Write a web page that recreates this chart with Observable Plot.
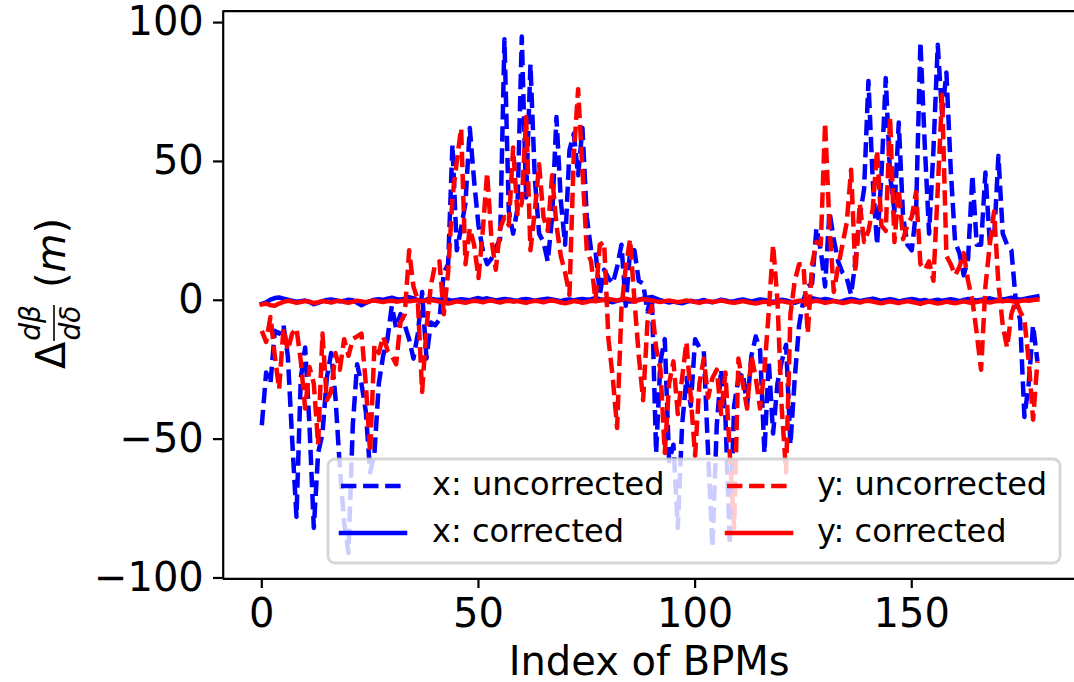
<!DOCTYPE html>
<html><head><meta charset="utf-8">
<script src="https://cdn.jsdelivr.net/npm/d3@7"></script>
<script src="https://cdn.jsdelivr.net/npm/@observablehq/plot@0.6"></script>
<style>body{margin:0;background:#fff;} svg{display:block}</style>
</head><body><div id="chart"></div>
<script>
// x: uncorrected (blue dashed)
const xUncorrected = [
 -45,-26,-30,-11,-12,-9,-20,-50,-78,-28,
 -17,-45,-82,-55,-48,-28,-19,-35,-60,-80,
 -91,-45,-23,-30,-40,-62,-55,-30,-20,-14,
 -2,-10,-5,-9,-14,-21,-12,3,-21,-8,
 -9,-7,10,13,56,18,26,35,62,43,
 27,18,13,15,19,22,94,32,24,33,
 95,37,85,44,24,21,14,30,66,36,
 20,54,60,45,62,30,18,18,2,11,
 8,6,12,20,-2,18,18,7,6,-4,
 2,-55,-22,-14,-58,-52,-82,-45,-28,-38,
 -14,-17,-18,-55,-89,-45,-25,-42,-88,-38,
 -28,-26,-38,-20,-13,-18,-55,-22,-48,-30,
 -22,-16,-52,-28,-9,0,5,6,26,18,
 5,32,22,14,10,8,2,14,30,40,
 79,43,20,45,80,45,32,64,30,20,
 18,32,93,56,24,54,92,67,82,47,
 21,17,9,15,45,20,20,46,21,22,
 52,24,20,18,0,-7,-42,-30,-9,-22
];
// x: corrected (blue solid)
const xCorrected = [
 -1.3,-0.8,0.2,0.8,1.0,0.6,0.2,-0.2,-0.5,-0.3,
 -0.1,-0.6,-1.4,-0.9,-0.3,0.1,0.3,0.0,-0.4,-0.2,
 0.2,0.0,-0.9,-1.8,-1.0,-0.3,0.2,0.4,0.1,0.6,
 0.9,0.5,0.2,0.6,1.1,0.7,0.1,-0.3,0.2,0.6,
 0.3,0.1,0.5,0.2,-0.2,0.1,0.4,0.2,0.0,0.5,
 0.8,0.4,0.7,0.3,-0.1,0.2,0.5,0.3,0.0,-0.2,
 0.3,0.5,0.2,-0.2,0.1,0.4,0.6,0.3,0.0,-0.3,
 0.1,0.3,-0.1,0.3,0.5,0.2,0.4,0.8,0.4,0.1,
 -0.4,-0.7,-0.2,0.2,0.0,-0.5,-0.2,0.2,0.6,0.9,
 1.2,0.6,0.0,-0.4,-0.8,-0.5,-0.8,-1.1,-0.6,-0.2,
 -0.5,-0.3,0.1,-0.4,-0.7,-0.3,0.2,-0.1,-0.5,-0.3,
 0.0,0.3,-0.1,-0.4,-0.1,0.3,0.1,-0.3,-0.6,-0.2,
 0.2,-0.1,-0.5,-0.9,-0.4,0.0,0.4,0.7,0.4,0.1,
 0.5,0.2,-0.2,-0.6,-0.3,0.2,0.5,0.2,-0.3,0.0,
 0.3,0.6,0.2,-0.2,0.1,0.4,0.1,-0.4,-0.1,0.2,
 0.5,0.2,-0.2,0.1,-0.3,-0.1,0.2,-0.2,0.1,0.4,
 0.1,-0.3,0.1,0.5,0.2,-0.1,0.2,0.4,0.7,0.3,
 0.0,0.3,0.6,0.9,0.5,0.2,0.5,0.8,1.1,1.4
];
// y: uncorrected (red dashed)
const yUncorrected = [
 -11,-15,-6,-20,-32,-10,-18,-12,-10,-22,
 -39,-24,-30,-52,-12,-36,-33,-19,-25,-14,
 -20,-14,-13,-12,-30,-55,-16,-19,-13,-18,
 -20,-23,-8,-5,18,5,0,-33,-10,5,
 13,14,-5,10,37,50,62,13,26,20,
 8,25,46,22,11,26,30,27,55,31,
 35,66,18,32,49,30,25,45,27,16,
 10,2,52,76,47,18,14,0,20,21,
 -14,-28,-46,-3,12,22,0,-20,-36,-8,
 -2,-17,-25,-55,-30,-22,-41,-28,-15,-35,
 -56,-30,-21,-35,-28,-25,-41,-26,-55,-82,
 -21,-30,-39,-20,-28,-39,-25,-4,20,0,
 -39,-62,-5,7,13,13,-12,13,21,20,
 64,27,3,12,20,28,47,10,35,21,
 25,33,54,27,25,66,21,40,22,27,
 30,39,13,11,14,7,40,74,16,13,
 9,12,17,7,0,-12,-25,5,20,32,
 6,-9,-17,-5,0,-4,-7,-22,-43,-22
];
// y: corrected (red solid)
const yCorrected = [
 -1.5,-1.2,-1.8,-2.0,-1.2,-0.6,-0.2,-0.5,-0.9,-0.6,
 -0.3,-0.5,-1.0,-0.7,-0.3,-0.5,-0.8,-0.4,-0.2,-0.6,
 -0.9,-0.5,-0.2,-0.4,-0.7,-0.3,-0.1,-0.4,-0.6,-0.3,
 -0.2,-0.5,-0.3,-0.1,-0.4,-0.2,0.0,-0.3,-0.1,0.2,
 -0.2,-0.5,-0.9,-1.2,-0.8,-0.4,-0.6,-0.9,-0.5,-0.2,
 -0.4,-0.7,-0.3,-0.1,-0.5,-0.8,-0.4,-0.2,-0.5,-0.3,
 -0.6,-0.9,-0.5,-0.2,-0.4,-0.7,-0.3,-0.1,-0.4,-0.8,
 -1.1,-0.7,-0.3,-0.5,-0.9,-0.6,-0.2,-0.4,-0.1,0.2,
 0.5,0.2,-0.1,0.3,0.6,0.2,-0.2,0.1,0.4,0.2,
 -0.1,-0.4,-0.6,-0.3,-0.1,-0.4,-0.7,-0.4,-0.1,-0.3,
 -0.6,-0.9,-0.5,-0.3,-0.6,-0.4,-0.1,-0.4,-0.7,-0.9,
 -0.6,-0.3,-0.6,-0.9,-1.2,-0.8,-0.5,-0.7,-1.0,-0.6,
 -0.3,-0.6,-0.9,-0.5,-0.2,-0.4,-0.8,-0.5,-0.2,-0.5,
 -0.9,-0.6,-0.3,-0.6,-1.0,-0.7,-0.3,-0.5,-0.8,-0.4,
 -0.2,-0.5,-0.8,-1.1,-0.7,-0.4,-0.7,-1.0,-0.6,-0.3,
 -0.6,-0.9,-1.3,-0.8,-0.5,-0.8,-1.2,-0.9,-0.5,-0.8,
 -1.1,-0.7,-0.4,-0.7,-1.0,-0.6,-0.3,-0.5,-0.8,-0.5,
 -0.2,-0.4,-0.1,-0.3,-0.6,-0.3,0.0,-0.2,0.1,0.3
];
const xTicks = [0, 50, 100, 150];
const yTicks = [-100, -50, 0, 50, 100];
const seriesLabels = ["x: uncorrected", "x: corrected", "y: uncorrected", "y: corrected"];
const xAxisLabel = "Index of BPMs";

const W = 1074, H = 682;
const mL = 222.7, mT = 10.7, mB = 103.7, mR = 0;
const xDom = [-8.91, 187.56], yDom = [-100.3, 104.1];
const BLUE = "#0000ff", RED = "#ff0000";
const LW = 4.5;
const DASH = "15.4,6.7";
const rows = arr => arr.map((v, i) => ({i, v}));
const fmt = d => d < 0 ? "\u2212" + Math.abs(d) : String(d);

const svg = Plot.plot({
  width: W, height: H,
  marginLeft: mL, marginTop: mT, marginBottom: mB, marginRight: mR,
  style: {fontFamily: "'DejaVu Sans', sans-serif", background: "#fff", color: "#000", overflow: "visible"},
  x: {domain: xDom},
  y: {domain: yDom},
  marks: [
    Plot.line(rows(xUncorrected), {x: "i", y: "v", stroke: BLUE, strokeWidth: LW, strokeDasharray: DASH, strokeLinecap: "butt", strokeLinejoin: "round"}),
    Plot.line(rows(xCorrected), {x: "i", y: "v", stroke: BLUE, strokeWidth: LW, strokeLinecap: "square", strokeLinejoin: "round"}),
    Plot.line(rows(yUncorrected), {x: "i", y: "v", stroke: RED, strokeWidth: LW, strokeDasharray: DASH, strokeLinecap: "butt", strokeLinejoin: "round"}),
    Plot.line(rows(yCorrected), {x: "i", y: "v", stroke: RED, strokeWidth: LW, strokeLinecap: "square", strokeLinejoin: "round"}),
    Plot.ruleX([xDom[0]], {stroke: "#000", strokeWidth: 2.2}),
    Plot.ruleY(yDom, {stroke: "#000", strokeWidth: 2.2}),
    Plot.axisX({ticks: xTicks, tickSize: 9.7, tickPadding: 9.7, strokeWidth: 2.2, fontSize: 40, label: null, tickFormat: fmt}),
    Plot.axisY({ticks: yTicks, tickSize: 9.7, tickPadding: 9.7, strokeWidth: 2.2, fontSize: 40, label: null, tickFormat: fmt})
  ]
});
document.getElementById("chart").appendChild(svg);

const s = d3.select(svg);
const FONT = "'DejaVu Sans', sans-serif";

// x axis label
s.append("text").attr("x", 649.2).attr("y", 675).attr("text-anchor", "middle")
  .attr("font-family", FONT).attr("font-size", 40).attr("fill", "#000").text(xAxisLabel);

// y axis label: Δ_{dβ/dδ} (m)
const yl = s.append("g").attr("transform", "translate(65,369) rotate(-90)")
  .attr("font-family", FONT).attr("fill", "#000").attr("text-anchor", "start");
yl.append("text").attr("x", 0).attr("y", 0).attr("font-size", 40).attr("text-anchor", "start").text("Δ");
yl.append("text").attr("x", 46).attr("y", -25).attr("font-size", 28).attr("font-style", "italic").attr("text-anchor", "middle").text("dβ");
yl.append("line").attr("x1", 28).attr("x2", 64).attr("y1", -11).attr("y2", -11).attr("stroke", "#000").attr("stroke-width", 1.6);
yl.append("text").attr("x", 46).attr("y", 15).attr("font-size", 28).attr("font-style", "italic").attr("text-anchor", "middle").text("dδ");
const pm = yl.append("text").attr("x", 81).attr("y", 0).attr("font-size", 40).attr("text-anchor", "start");
pm.append("tspan").text("(");
pm.append("tspan").attr("font-style", "italic").text("m");
pm.append("tspan").text(")");

// legend
const lg = s.append("g").attr("font-family", FONT).attr("text-anchor", "start");
lg.append("rect").attr("x", 328).attr("y", 459).attr("width", 732).attr("height", 104).attr("rx", 7)
  .attr("fill", "#fff").attr("fill-opacity", 0.8).attr("stroke", "#cccccc").attr("stroke-opacity", 0.8).attr("stroke-width", 2.8);
const entries = [
  {label: seriesLabels[0], color: BLUE, dash: DASH, hx: 341, tx: 432, hy: 486, ty: 495},
  {label: seriesLabels[1], color: BLUE, dash: null, hx: 341, tx: 432, hy: 533, ty: 542},
  {label: seriesLabels[2], color: RED, dash: DASH, hx: 727, tx: 817, hy: 486, ty: 495},
  {label: seriesLabels[3], color: RED, dash: null, hx: 727, tx: 817, hy: 533, ty: 542}
];
for (const e of entries) {
  const ln = lg.append("line").attr("x1", e.hx).attr("x2", e.hx + 64).attr("y1", e.hy).attr("y2", e.hy)
    .attr("stroke", e.color).attr("stroke-width", LW).attr("stroke-linecap", e.dash ? "butt" : "square");
  if (e.dash) ln.attr("stroke-dasharray", e.dash);
  lg.append("text").attr("x", e.tx).attr("y", e.ty).attr("font-size", 32).attr("text-anchor", "start").attr("fill", "#000").text(e.label);
}
</script>
</body></html>
